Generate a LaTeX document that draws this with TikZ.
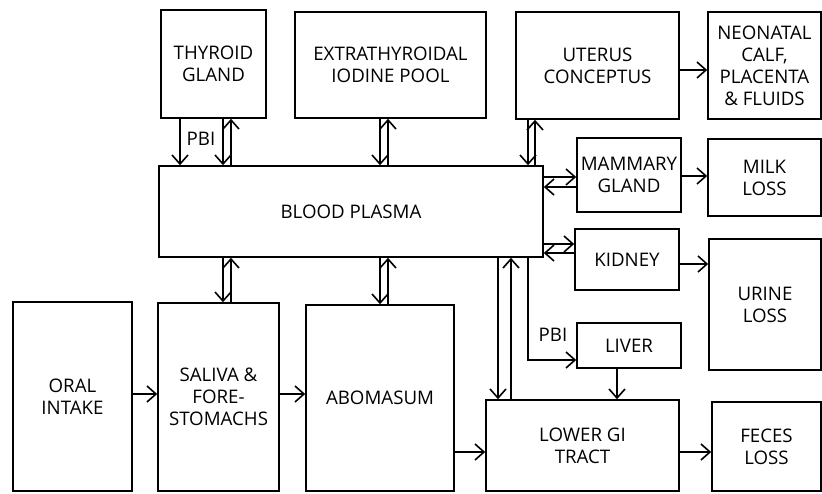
\documentclass[tikz,border=0pt]{standalone}
\usepackage{fontspec}
\setmainfont{Open Sans}
\usetikzlibrary{arrows.meta}

\begin{document}
\begin{tikzpicture}[x=1pt, y=-1pt, line width=1.6pt, >={Straight Barb[length=9pt,width=16pt]}]
    \tikzstyle{block} = [draw, rectangle, align=center, inner sep=0pt, font=\fontsize{18.7}{22}\selectfont]
    \tikzstyle{lbl} = [inner sep=0pt, font=\fontsize{18.7}{22}\selectfont]
    \useasboundingbox (0,0) rectangle (822,493);

    \begin{scope}
        \path
          node[block, minimum width=105, minimum height=108] (thy) at (213.5,64) {THYROID\\GLAND}
          node[block, minimum width=191, minimum height=106] (pool) at (390.5,65) {EXTRATHYROIDAL\\IODINE POOL}
          node[block, minimum width=163, minimum height=107] (ute) at (597.5,65.5) {UTERUS\\CONCEPTUS}
          node[block, minimum width=113, minimum height=107] (neo) at (764.5,65.5) {NEONATAL\\CALF,\\PLACENTA\\\& FLUIDS}
          node[block, minimum width=104, minimum height=74] (mam) at (629,175) {MAMMARY\\GLAND}
          node[block, minimum width=113, minimum height=77] (milk) at (764.5,177.5) {MILK\\LOSS}
          node[block, minimum width=384, minimum height=91] (plasma) at (351,211.5) {BLOOD PLASMA}
          node[block, minimum width=104, minimum height=61] (kid) at (627,259.5) {KIDNEY}
          node[block, minimum width=112, minimum height=131] (urine) at (765,304.5) {URINE\\LOSS}
          node[block, minimum width=104, minimum height=45] (liver) at (629,345.5) {LIVER}
          node[block, minimum width=193, minimum height=91] (lgi) at (582.5,445.5) {LOWER GI\\TRACT}
          node[block, minimum width=109, minimum height=89] (feces) at (766.5,446.5) {FECES\\LOSS}
          node[block, minimum width=119, minimum height=189] (oral) at (72.5,396.5) {ORAL\\INTAKE}
          node[block, minimum width=121, minimum height=188] (sal) at (218.5,397) {SALIVA \&\\FORE-\\STOMACHS}
          node[block, minimum width=148, minimum height=186] (abo) at (380,398) {ABOMASUM}
          node[lbl] (pbi1) at (201,139) {PBI}
          node[lbl] (pbi2) at (553,335) {PBI}

          % thyroid, pool and uterus
          (180,0 |- thy.south) edge[->] (180,0 |- plasma.north)
          (223,0 |- thy.south) edge[->] (223,0 |- plasma.north)
          (231,0 |- plasma.north) edge[->] (231,0 |- thy.south)
          (380,0 |- pool.south) edge[->] (380,0 |- plasma.north)
          (388,0 |- plasma.north) edge[->] (388,0 |- pool.south)
          (528,0 |- ute.south) edge[->] (528,0 |- plasma.north)
          (535,0 |- plasma.north) edge[->] (535,0 |- ute.south)
          (ute.east |- 0,70) edge[->] (neo.west |- 0,70)

          % right side organs
          (plasma.east |- 0,177) edge[->] (mam.west |- 0,177)
          (mam.west |- 0,187) edge[->] (plasma.east |- 0,187)
          (mam.east |- 0,176) edge[->] (milk.west |- 0,176)
          (plasma.east |- 0,244) edge[->] (kid.west |- 0,244)
          (kid.west |- 0,253) edge[->] (plasma.east |- 0,253)
          (kid.east |- 0,264) edge[->] (urine.west |- 0,264)

          % gut
          (223,0 |- plasma.south) edge[->] (223,0 |- sal.north)
          (231,0 |- sal.north) edge[->] (231,0 |- plasma.south)
          (380,0 |- plasma.south) edge[->] (380,0 |- abo.north)
          (388,0 |- abo.north) edge[->] (388,0 |- plasma.south)
          (498,0 |- plasma.south) edge[->] (498,0 |- lgi.north)
          (511,0 |- lgi.north) edge[->] (511,0 |- plasma.south)
          (617,0 |- liver.south) edge[->] (617,0 |- lgi.north)
          (oral.east |- 0,394) edge[->] (sal.west |- 0,394)
          (sal.east |- 0,394) edge[->] (abo.west |- 0,394)
          (abo.east |- 0,452) edge[->] (lgi.west |- 0,452)
          (lgi.east |- 0,452) edge[->] (feces.west |- 0,452);

        \draw[->] (528,0 |- plasma.south) |- (liver.west |- 0,360);
    \end{scope}
\end{tikzpicture}
\end{document}
